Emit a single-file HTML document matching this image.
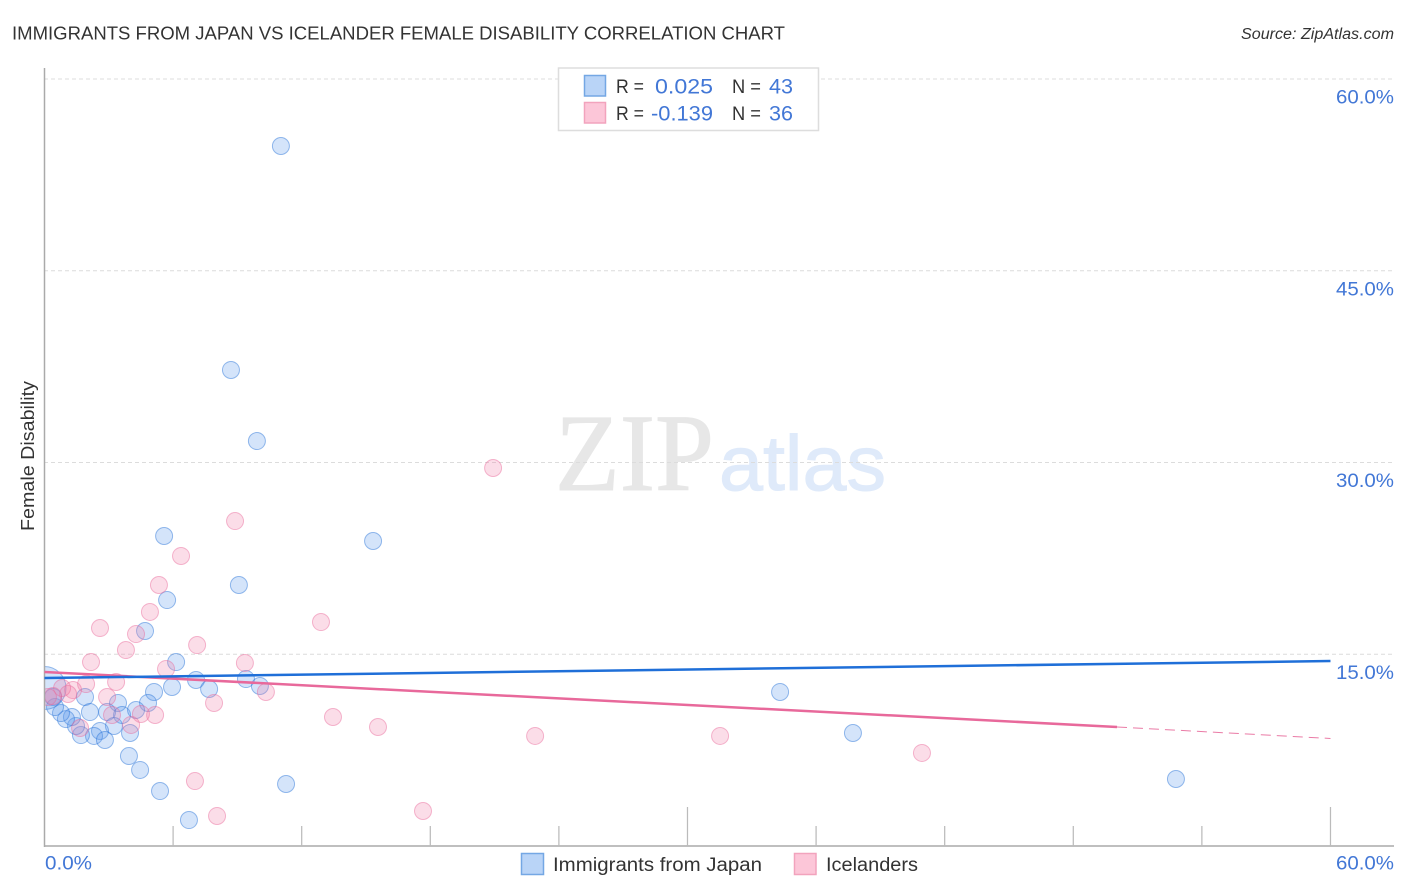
<!DOCTYPE html>
<html lang="en">
<head>
<meta charset="utf-8">
<title>Immigrants from Japan vs Icelander Female Disability Correlation Chart</title>
<style>
  html, body { margin: 0; padding: 0; background: #fff; }
  body { width: 1406px; height: 892px; overflow: hidden; }
  svg { display: block; position: absolute; left: 0; top: 0; }
  text { font-family: "Liberation Sans", sans-serif; }
  .blue-text { fill: #4277d6; }
  .dark-text { fill: #333333; }
</style>
</head>
<body>
<svg id="chart" xmlns="http://www.w3.org/2000/svg" width="1406" height="892" viewBox="0 0 1406 892">
  <rect x="0" y="0" width="1406" height="892" fill="#ffffff"></rect>

  <text class="dark-text" x="12" y="39.5" font-size="18.5" textLength="773" lengthAdjust="spacingAndGlyphs">IMMIGRANTS FROM JAPAN VS ICELANDER FEMALE DISABILITY CORRELATION CHART</text>
  <text x="1241" y="39" font-size="15.5" font-style="italic" fill="#333333" textLength="153" lengthAdjust="spacingAndGlyphs">Source: ZipAtlas.com</text>

  <g>
    <text x="555" y="490" style="font-family:'Liberation Serif',serif" font-size="110" fill="#e7e7e7" stroke="#e7e7e7" stroke-width="1" textLength="159" lengthAdjust="spacingAndGlyphs">ZIP</text>
    <text x="719" y="490" font-size="78" fill="#dfeafa" stroke="#dfeafa" stroke-width="1" textLength="167" lengthAdjust="spacingAndGlyphs">atlas</text>
  </g>

  <g id="grid"></g>
  <g id="points"></g>
  <rect x="0" y="640" width="44" height="100" fill="#ffffff"></rect>
  <g id="axes"></g>
  <text class="dark-text" transform="translate(34 531) rotate(-90)" font-size="18.5" textLength="150" lengthAdjust="spacingAndGlyphs">Female Disability</text>
  <g id="trends"></g>
  <g id="tick-labels"></g>

  <g>
    <rect x="558.5" y="68" width="260" height="62.5" fill="#ffffff" stroke="#dddddd" stroke-width="1.5"></rect>
    <rect x="584.5" y="75.5" width="21" height="20.5" fill="#b9d4f7" stroke="#74a7e4" stroke-width="1.5"></rect>
    <rect x="584.5" y="102.5" width="21" height="20.5" fill="#fcc6d8" stroke="#f2a3bd" stroke-width="1.5"></rect>
    <text class="dark-text" x="616" y="93" font-size="19" textLength="28" lengthAdjust="spacingAndGlyphs">R =</text>
    <text class="blue-text" x="655" y="93.5" font-size="21" textLength="58" lengthAdjust="spacingAndGlyphs">0.025</text>
    <text class="dark-text" x="732" y="93" font-size="19" textLength="29" lengthAdjust="spacingAndGlyphs">N =</text>
    <text class="blue-text" x="769" y="93.5" font-size="21" textLength="24" lengthAdjust="spacingAndGlyphs">43</text>
    <text class="dark-text" x="616" y="120" font-size="19" textLength="28" lengthAdjust="spacingAndGlyphs">R =</text>
    <text class="blue-text" x="651" y="120.5" font-size="21" textLength="62" lengthAdjust="spacingAndGlyphs">-0.139</text>
    <text class="dark-text" x="732" y="120" font-size="19" textLength="29" lengthAdjust="spacingAndGlyphs">N =</text>
    <text class="blue-text" x="769" y="120.5" font-size="21" textLength="24" lengthAdjust="spacingAndGlyphs">36</text>
  </g>

  <g>
    <rect x="521.5" y="853.5" width="22" height="21" fill="#b9d4f7" stroke="#74a7e4" stroke-width="1.5"></rect>
    <text class="dark-text" x="553" y="871" font-size="19" textLength="209" lengthAdjust="spacingAndGlyphs">Immigrants from Japan</text>
    <rect x="794.5" y="853.5" width="21.5" height="21" fill="#fcc6d8" stroke="#f2a3bd" stroke-width="1.5"></rect>
    <text class="dark-text" x="826" y="871" font-size="19" textLength="92" lengthAdjust="spacingAndGlyphs">Icelanders</text>
  </g>
</svg>

<script>
// Chart data (x and y are percentages)
const yTickValues = [60, 45, 30, 15];
const yTickLabels = ["60.0%", "45.0%", "30.0%", "15.0%"];
const xTickValues = [6, 12, 18, 24, 30, 36, 42, 48, 54, 60];
const xMajorTicks = [30, 60];
const xEndValues = [0, 60];
const xEndLabels = ["0.0%", "60.0%"];

const japanX = [11.03, 8.70, 9.91, 15.33, 5.58, 9.07, 5.72, 34.32, 37.72, 52.79, 4.69, 6.14, 5.95, 7.07, 7.68, 5.11, 4.83, 9.40, 10.05, 1.89, 3.43, 2.12, 2.92, 3.62, 4.27, 3.24, 3.99, 2.59, 2.31, 2.82, 1.70, 1.47, 1.28, 1.00, 0.77, 0.49, 0.40, 0.00, 3.94, 4.46, 5.39, 6.74, 11.27];
const japanY = [54.76, 37.24, 31.68, 23.86, 24.25, 20.42, 19.24, 12.05, 8.84, 5.24, 16.82, 14.39, 12.44, 12.99, 12.28, 12.05, 11.19, 13.06, 12.52, 11.66, 11.19, 10.48, 10.48, 10.25, 10.64, 9.39, 8.84, 9.00, 8.61, 8.29, 8.68, 9.39, 10.09, 9.93, 10.40, 10.87, 11.66, 12.36, 7.04, 5.95, 4.30, 2.03, 4.85];
const japanLargeIndex = 37;

const icelandX = [20.93, 8.89, 6.37, 5.34, 4.92, 12.90, 2.59, 4.27, 3.80, 2.17, 7.12, 9.35, 5.67, 3.34, 1.94, 2.92, 1.33, 1.10, 0.82, 0.40, 0.16, 7.91, 10.33, 5.16, 4.50, 3.15, 4.04, 1.66, 7.02, 8.05, 13.46, 15.56, 22.89, 31.52, 40.94, 17.66];
const icelandY = [29.57, 25.42, 22.69, 20.42, 18.31, 17.52, 17.05, 16.58, 15.33, 14.39, 15.72, 14.32, 13.85, 12.83, 12.67, 11.66, 12.20, 11.89, 12.36, 11.73, 11.66, 11.19, 12.05, 10.25, 10.33, 10.25, 9.47, 9.23, 5.08, 2.35, 10.09, 9.31, 8.61, 8.61, 7.28, 2.74];

const japanTrendX = [0, 60];
const japanTrendY = [13.14, 14.47];
const icelandTrendX = [0, 50.04];
const icelandTrendY = [13.61, 9.31];
const icelandProjectionX = [50.04, 60];
const icelandProjectionY = [9.31, 8.41];

// Axis functions
function xScale(v) { return 44.5 + v * 21.433; }
function yScale(v) { return 846 - v * 12.783; }

const SVG_NS = "http://www.w3.org/2000/svg";
function make(tag, parentId) {
  const el = document.createElementNS(SVG_NS, tag);
  document.getElementById(parentId).appendChild(el);
  return el;
}

// Gridlines and y tick labels
yTickValues.forEach(function (v, i) {
  const line = make("line", "grid");
  
  
  line.setAttribute("x1", 44);
  line.setAttribute("x2", 1394);
  line.setAttribute("y1", yScale(v));
  line.setAttribute("y2", yScale(v));
  line.setAttribute("stroke", "#dcdcdc");
  line.setAttribute("stroke-width", 1);
  line.setAttribute("stroke-dasharray", "4 3");

  const label = make("text", "tick-labels");
  
  
  label.setAttribute("class", "blue-text");
  label.setAttribute("x", 1336);
  label.setAttribute("y", yScale(v) + 24.5);
  label.setAttribute("font-size", 19.5);
  label.setAttribute("textLength", 58);
  label.setAttribute("lengthAdjust", "spacingAndGlyphs");
  label.textContent = yTickLabels[i];
});

// Axis lines
const yAxis = make("line", "axes");


yAxis.setAttribute("x1", 44.5);
yAxis.setAttribute("x2", 44.5);
yAxis.setAttribute("y1", 68);
yAxis.setAttribute("y2", 847);
yAxis.setAttribute("stroke", "#aaaaaa");
yAxis.setAttribute("stroke-width", 1.5);

const xAxis = make("line", "axes");


xAxis.setAttribute("x1", 44);
xAxis.setAttribute("x2", 1394);
xAxis.setAttribute("y1", 846);
xAxis.setAttribute("y2", 846);
xAxis.setAttribute("stroke", "#aaaaaa");
xAxis.setAttribute("stroke-width", 1.5);

// X ticks
xTickValues.forEach(function (v) {
  const tick = make("line", "axes");
  
  
  tick.setAttribute("x1", xScale(v));
  tick.setAttribute("x2", xScale(v));
  tick.setAttribute("y1", xMajorTicks.indexOf(v) >= 0 ? 807 : 826);
  tick.setAttribute("y2", 846);
  tick.setAttribute("stroke", "#bbbbbb");
  tick.setAttribute("stroke-width", 1.25);
});

// X end labels
xEndValues.forEach(function (v, i) {
  const label = make("text", "tick-labels");
  
  
  label.setAttribute("class", "blue-text");
  label.setAttribute("x", i === 0 ? xScale(v) + 0.5 : xScale(v) + 5.5);
  label.setAttribute("y", 869.5);
  label.setAttribute("font-size", 19.5);
  label.setAttribute("textLength", i === 0 ? 47 : 58);
  label.setAttribute("lengthAdjust", "spacingAndGlyphs");
  label.textContent = xEndLabels[i];
});

// Scatter points
japanX.forEach(function (v, i) {
  const dot = make("circle", "points");
  
  
  dot.setAttribute("cx", xScale(v));
  dot.setAttribute("cy", yScale(japanY[i]));
  dot.setAttribute("r", i === japanLargeIndex ? 21.5 : 8.5);
  dot.setAttribute("fill", "rgba(96,156,235,0.27)");
  dot.setAttribute("stroke", "rgba(40,115,215,0.48)");
  dot.setAttribute("stroke-width", 1);
});

icelandX.forEach(function (v, i) {
  const dot = make("circle", "points");
  
  
  dot.setAttribute("cx", xScale(v));
  dot.setAttribute("cy", yScale(icelandY[i]));
  dot.setAttribute("r", 8.5);
  dot.setAttribute("fill", "rgba(242,130,170,0.27)");
  dot.setAttribute("stroke", "rgba(232,100,150,0.45)");
  dot.setAttribute("stroke-width", 1);
});

// Trend lines
const icelandProjection = make("line", "trends");


icelandProjection.setAttribute("x1", xScale(icelandProjectionX[0]));
icelandProjection.setAttribute("y1", yScale(icelandProjectionY[0]));
icelandProjection.setAttribute("x2", xScale(icelandProjectionX[1]));
icelandProjection.setAttribute("y2", yScale(icelandProjectionY[1]));
icelandProjection.setAttribute("stroke", "#ea7ba6");
icelandProjection.setAttribute("stroke-width", 1);
icelandProjection.setAttribute("stroke-dasharray", "10 6");

const icelandTrend = make("line", "trends");


icelandTrend.setAttribute("x1", xScale(icelandTrendX[0]));
icelandTrend.setAttribute("y1", yScale(icelandTrendY[0]));
icelandTrend.setAttribute("x2", xScale(icelandTrendX[1]));
icelandTrend.setAttribute("y2", yScale(icelandTrendY[1]));
icelandTrend.setAttribute("stroke", "#e8699b");
icelandTrend.setAttribute("stroke-width", 2.5);

const japanTrend = make("line", "trends");


japanTrend.setAttribute("x1", xScale(japanTrendX[0]));
japanTrend.setAttribute("y1", yScale(japanTrendY[0]));
japanTrend.setAttribute("x2", xScale(japanTrendX[1]));
japanTrend.setAttribute("y2", yScale(japanTrendY[1]));
japanTrend.setAttribute("stroke", "#1f6fd8");
japanTrend.setAttribute("stroke-width", 2.5);
</script>
</body>
</html>
